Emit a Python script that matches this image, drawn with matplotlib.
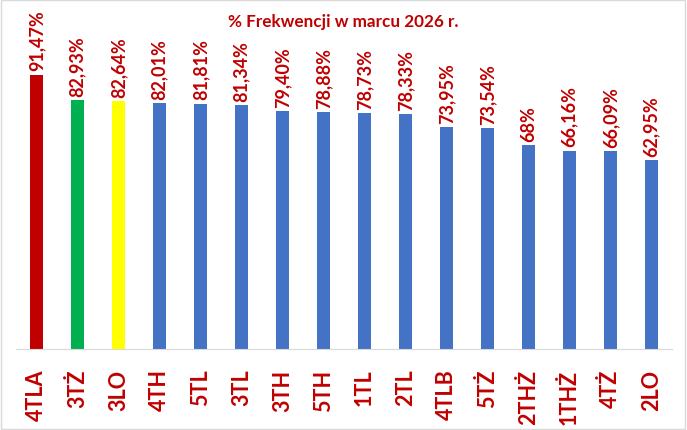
import matplotlib.pyplot as plt
from matplotlib.patches import Rectangle
from matplotlib.transforms import blended_transform_factory, offset_copy

classes = ["4TLA", "3TŻ", "3LO", "4TH", "5TL", "3TL", "3TH", "5TH",
           "1TL", "2TL", "4TLB", "5TŻ", "2THŻ", "1THŻ", "4TŻ", "2LO"]
attendance = [91.47, 82.93, 82.64, 82.01, 81.81, 81.34, 79.40, 78.88,
              78.73, 78.33, 73.95, 73.54, 68, 66.16, 66.09, 62.95]
bar_colors = ["#C00000", "#00B050", "#FFFF00"] + ["#4472C4"] * 13

DARK_RED = "#C00000"
plt.rcParams["font.family"] = ["Lato", "DejaVu Sans"]


def fmt(v):
    if float(v).is_integer():
        return f"{int(v)}%"
    return f"{v:.2f}".replace(".", ",") + "%"


fig = plt.figure(figsize=(6.87, 4.31), dpi=100)
ax = fig.add_axes([16 / 687, 81 / 431, 656 / 687, 300 / 431])

x = list(range(len(classes)))
bars = ax.bar(x, attendance, width=0.3, color=bar_colors)
for b, v in zip(bars, attendance):
    ax.annotate(fmt(v), (b.get_x() + b.get_width() / 2, v),
                xytext=(0, 3), textcoords="offset points",
                rotation=90, ha="center", va="bottom",
                color=DARK_RED, fontsize=13, fontweight="bold",
                annotation_clip=False)

# category labels, vertical, hanging under the axis line
label_tr = offset_copy(blended_transform_factory(ax.transData, ax.transAxes),
                       fig=fig, x=0, y=-14, units="points")
for i, name in zip(x, classes):
    ax.text(i, 0, name, transform=label_tr, rotation="vertical",
            rotation_mode="anchor", ha="right", va="center",
            color=DARK_RED, fontsize=15.5, fontweight="bold", clip_on=False)

ax.set_xlim(-0.5, len(classes) - 0.5)
ax.set_ylim(0, 100)
ax.set_yticks([])
ax.set_xticks([])
for side in ["top", "left", "right"]:
    ax.spines[side].set_visible(False)
ax.spines["bottom"].set_color("#D9D9D9")

fig.text(0.5, 1 - 22 / 431, "% Frekwencji w marcu 2026 r.", ha="center",
         va="center", color=DARK_RED, fontsize=12.3, fontweight="bold")

fig.patches.append(Rectangle((0.002, 0.003), 0.995, 0.994, transform=fig.transFigure,
                             fill=False, edgecolor="#D9D9D9", linewidth=1))

fig.savefig("out.png", dpi=100)
